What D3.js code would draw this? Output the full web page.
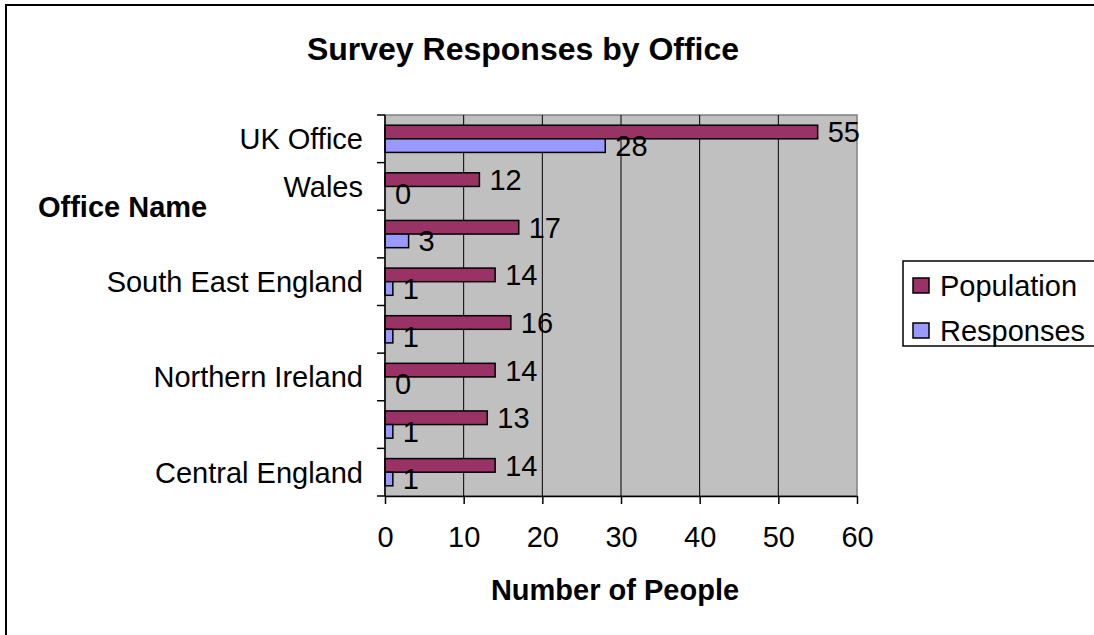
<!DOCTYPE html>
<html>
<head>
<meta charset="utf-8">
<script src="https://cdn.jsdelivr.net/npm/d3@7"></script>
<style>
	html, body { margin: 0; padding: 0; background: #fff; }
	svg { display: block; font-family: Arial, "Liberation Sans", sans-serif; }
</style>
</head>
<body>
<div id="chart"></div>
<script>
// categories from top to bottom; blank entries are the offices whose label Excel skipped
var offices = ["UK Office", "Wales", "", "South East England", "", "Northern Ireland", "", "Central England"];
var population = [55, 12, 17, 14, 16, 14, 13, 14];
var responses = [28, 0, 3, 1, 1, 0, 1, 1];
var seriesNames = ["Population", "Responses"];
var xTicks = [0, 10, 20, 30, 40, 50, 60];

var width = 1094, height = 635;
var plot = {left: 385, right: 857, top: 115, bottom: 496};
var colors = {Population: "#993366", Responses: "#9999FF"};

var svg = d3.select("#chart").append("svg")
	.attr("width", width)
	.attr("height", height);

// chart area border (right and bottom run off the picture)
svg.append("rect")
	.attr("x", 6).attr("y", 5)
	.attr("width", 1200).attr("height", 800)
	.attr("fill", "#fff")
	.attr("stroke", "#000")
	.attr("stroke-width", 2);

var x = d3.scaleLinear().domain([0, 60]).range([plot.left, plot.right]);
var y = d3.scaleBand().domain(d3.range(offices.length)).range([plot.top, plot.bottom]);
var ySeries = d3.scaleBand().domain(seriesNames).range([0, y.bandwidth()]).paddingOuter(0.75);

// plot area
svg.append("rect")
	.attr("x", plot.left).attr("y", plot.top)
	.attr("width", plot.right - plot.left).attr("height", plot.bottom - plot.top)
	.attr("fill", "#C0C0C0")
	.attr("stroke", "#808080")
	.attr("stroke-width", 1.5);

svg.append("g").selectAll("line")
	.data(xTicks.slice(1, -1))
	.enter().append("line")
	.attr("x1", function(d){ return x(d); })
	.attr("x2", function(d){ return x(d); })
	.attr("y1", plot.top)
	.attr("y2", plot.bottom)
	.attr("stroke", "#000")
	.attr("stroke-width", 1);

var rows = offices.map(function(name, i){
	return {i: i, name: name, values: [
		{series: "Population", value: population[i]},
		{series: "Responses", value: responses[i]}
	]};
});

var groups = svg.append("g").selectAll("g")
	.data(rows)
	.enter().append("g")
	.attr("transform", function(d){ return "translate(0," + y(d.i) + ")"; });

groups.selectAll("rect")
	.data(function(d){ return d.values; })
	.enter().append("rect")
	.attr("x", x(0))
	.attr("y", function(d){ return ySeries(d.series); })
	.attr("width", function(d){ return x(d.value) - x(0); })
	.attr("height", ySeries.bandwidth())
	.attr("fill", function(d){ return colors[d.series]; })
	.attr("stroke", "#000")
	.attr("stroke-width", 1.5);

groups.selectAll("text")
	.data(function(d){ return d.values; })
	.enter().append("text")
	.attr("x", function(d){ return x(d.value) + 10; })
	.attr("y", function(d){ return ySeries(d.series) + ySeries.bandwidth() / 2; })
	.attr("dy", "0.36em")
	.attr("font-size", 29)
	.attr("fill", "#000")
	.text(function(d){ return d.value; });

// axes
var xAxis = d3.axisBottom(x).tickValues(xTicks).tickSize(8).tickPadding(0).tickSizeOuter(0);
var gx = svg.append("g")
	.attr("transform", "translate(0," + plot.bottom + ")")
	.call(xAxis);
gx.select(".domain").attr("stroke", "#000").attr("stroke-width", 1.5);
gx.selectAll(".tick line").attr("stroke", "#000").attr("stroke-width", 1.5);
gx.selectAll(".tick text")
	.attr("font-size", 29)
	.attr("font-family", "Arial, 'Liberation Sans', sans-serif")
	.attr("fill", "#000")
	.attr("y", 0)
	.attr("dy", 51);

var gy = svg.append("g");
gy.append("line")
	.attr("x1", plot.left).attr("x2", plot.left)
	.attr("y1", plot.top).attr("y2", plot.bottom)
	.attr("stroke", "#000").attr("stroke-width", 1.5);
gy.selectAll("line.tick")
	.data(d3.range(offices.length + 1))
	.enter().append("line")
	.attr("class", "tick")
	.attr("x1", plot.left - 8).attr("x2", plot.left)
	.attr("y1", function(d){ return plot.top + d * y.step(); })
	.attr("y2", function(d){ return plot.top + d * y.step(); })
	.attr("stroke", "#000").attr("stroke-width", 1.5);
gy.selectAll("text")
	.data(rows)
	.enter().append("text")
	.attr("x", plot.left - 22)
	.attr("y", function(d){ return y(d.i) + y.bandwidth() / 2; })
	.attr("dy", "0.36em")
	.attr("text-anchor", "end")
	.attr("font-size", 29)
	.text(function(d){ return d.name; });

// titles
svg.append("text")
	.attr("x", 523).attr("y", 60)
	.attr("text-anchor", "middle")
	.attr("font-size", 32)
	.attr("font-weight", "bold")
	.text("Survey Responses by Office");

svg.append("text")
	.attr("x", 38).attr("y", 217)
	.attr("font-size", 29)
	.attr("font-weight", "bold")
	.text("Office Name");

svg.append("text")
	.attr("x", (plot.left + plot.right) / 2 - 6).attr("y", 600)
	.attr("text-anchor", "middle")
	.attr("font-size", 29)
	.attr("font-weight", "bold")
	.text("Number of People");

// legend
var legend = svg.append("g").attr("transform", "translate(903,261)");
legend.append("rect")
	.attr("width", 300).attr("height", 85)
	.attr("fill", "#fff")
	.attr("stroke", "#000")
	.attr("stroke-width", 1.5);
var items = legend.selectAll("g")
	.data(seriesNames)
	.enter().append("g")
	.attr("transform", function(d, i){ return "translate(10," + (17 + i * 45) + ")"; });
items.append("rect")
	.attr("width", 16).attr("height", 15)
	.attr("fill", function(d){ return colors[d]; })
	.attr("stroke", "#000")
	.attr("stroke-width", 1.5);
items.append("text")
	.attr("x", 27).attr("y", 7.5)
	.attr("dy", "0.36em")
	.attr("font-size", 29)
	.text(function(d){ return d; });
</script>
</body>
</html>
